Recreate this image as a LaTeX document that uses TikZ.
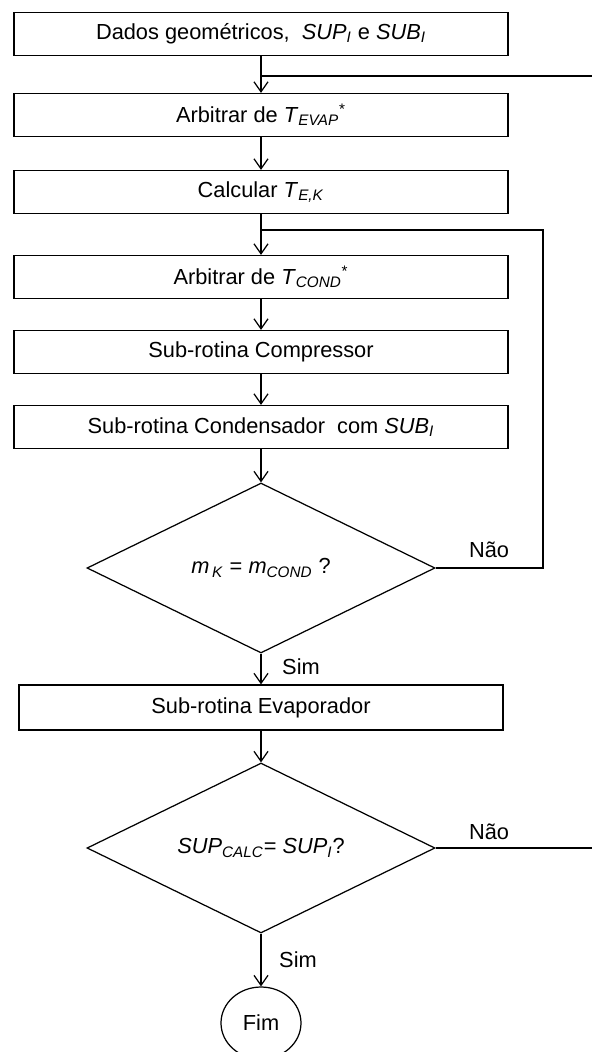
\documentclass[tikz,border=0pt]{standalone}
\usepackage{fontspec}
\setmainfont{Liberation Sans}
\usetikzlibrary{shapes.geometric,arrows.meta}
\newcommand{\vsub}[2]{\textit{#1}\textsubscript{\textit{#2}}}

\begin{document}
\begin{tikzpicture}[font=\fontsize{12.4}{14}\selectfont, line width=0.7pt]
    \tikzstyle{stepbox} = [draw, rectangle, minimum width=9.88cm, minimum height=0.86cm, inner sep=0pt, align=center]
    \tikzstyle{decision} = [draw, diamond, aspect=2.05, minimum width=6.96cm, minimum height=3.4cm, inner sep=0pt, align=center]
    \tikzstyle{terminal} = [draw, ellipse, minimum width=1.6cm, minimum height=1.44cm, inner sep=0pt]
    \tikzstyle{arrow} = [-{Straight Barb[length=2mm, width=2.8mm]}]
    \tikzstyle{answer} = [inner sep=0pt]

    \useasboundingbox (0,0) rectangle (11.84,-21.04);

    % Main steps
    \node[stepbox] (dados) at (5.22,-0.68) {Dados geométricos,\ \ \vsub{SUP}{I} e \vsub{SUB}{I}};
    \node[stepbox] (tevap) at (5.22,-2.30) {Arbitrar de \vsub{T}{EVAP}\textsuperscript{*}};
    \node[stepbox] (tek) at (5.22,-3.84) {Calcular \vsub{T}{E,K}};
    \node[stepbox] (tcond) at (5.22,-5.54) {Arbitrar de \vsub{T}{COND}\textsuperscript{*}};
    \node[stepbox] (comp) at (5.22,-7.04) {Sub-rotina Compressor};
    \node[stepbox] (cond) at (5.22,-8.54) {Sub-rotina Condensador\ \ com \vsub{SUB}{I}};

    % Mass check
    \node[decision] (massa) at (5.22,-11.36) {\vsub{m}{\,K} = \vsub{m}{COND} ?};

    \node[stepbox, minimum width=9.68cm, minimum height=0.9cm] (evap) at (5.22,-14.15) {Sub-rotina Evaporador};

    % Superheat check
    \node[decision] (sup) at (5.22,-16.96) {\vsub{SUP}{CALC}= \vsub{SUP}{I}?};

    \node[terminal] (fim) at (5.22,-20.46) {Fim};

    % Junctions of the loops
    \coordinate (j1) at (5.22,-1.52);
    \coordinate (r1) at (11.84,-1.52);
    \coordinate (j2) at (5.22,-4.6);
    \coordinate (k2) at (10.86,-4.6);
    \coordinate (r2) at (11.84,-16.96);

    % Arrows
    \draw[arrow] (dados) -- (tevap);
    \draw[arrow] (tevap) -- (tek);
    \draw[arrow] (tek) -- (tcond);
    \draw[arrow] (tcond) -- (comp);
    \draw[arrow] (comp) -- (cond);
    \draw[arrow] (cond) -- (massa);
    \draw[arrow] (massa) -- (evap);
    \draw[arrow] (evap) -- (sup);
    \draw[arrow] (sup) -- (fim);
    \draw (r1) -- (j1);
    \draw (massa.east) -| (k2) -- (j2);
    \draw (sup.east) -- (r2);

    % Labels
    \node[answer] (nao1) at (9.78,-11.0) {Não};
    \node[answer] (sim1) at (6.02,-13.34) {Sim};
    \node[answer] (nao2) at (9.78,-16.64) {Não};
    \node[answer] (sim2) at (5.96,-19.2) {Sim};
\end{tikzpicture}
\end{document}
